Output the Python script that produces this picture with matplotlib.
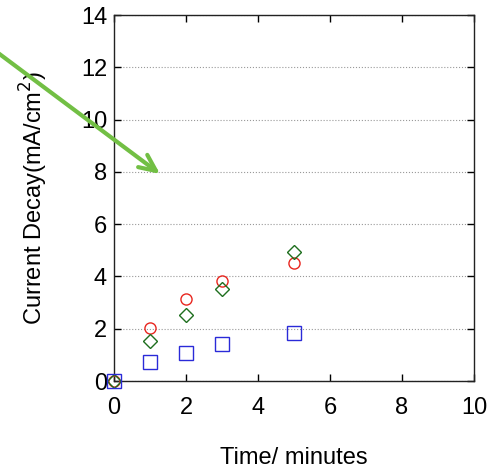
import matplotlib
matplotlib.use("Agg")
import matplotlib.pyplot as plt

time = [0, 1, 2, 3, 5]
red_vals = [0, 2.04, 3.12, 3.83, 4.53]
green_vals = [0, 1.54, 2.52, 3.52, 4.95]
blue_vals = [0, 0.74, 1.06, 1.40, 1.82]
xticks = [0, 2, 4, 6, 8, 10]
yticks = [0, 2, 4, 6, 8, 10, 12, 14]

plt.rcParams['font.family'] = ['Liberation Sans', 'DejaVu Sans']

fig = plt.figure(figsize=(5.0, 4.69), dpi=100)
ax = fig.add_axes([0.228, 0.1876, 0.72, 0.7804])

ax.plot(time, red_vals, 'o', mfc='none', mec='#e8261f', mew=1.0, ms=8, clip_on=False, zorder=3)
ax.plot(time, green_vals, 'D', mfc='none', mec='#1e6e1e', mew=1.0, ms=7.5, clip_on=False, zorder=3)
ax.plot(time, blue_vals, 's', mfc='none', mec='#2a2ad8', mew=1.0, ms=9.5, clip_on=False, zorder=3)

ax.set_xlim(0, 10)
ax.set_ylim(0, 14)
ax.set_xticks(xticks)
ax.set_yticks(yticks)
ax.yaxis.grid(True, linestyle=':', color='#999999', linewidth=0.8)
ax.set_axisbelow(True)
ax.tick_params(axis='both', direction='in', length=5, width=1, top=True, right=True, labelsize=17)
ax.tick_params(axis='x', pad=11.5)
ax.tick_params(axis='y', pad=5)
for s in ax.spines.values():
    s.set_linewidth(1.0)
    s.set_color('#222222')

ax.set_xlabel('Time/ minutes', fontsize=17, labelpad=20)
ax.set_ylabel('Current Decay(mA/cm$^2$)', fontsize=17, labelpad=22)

ax.annotate('', xy=(1.28, 7.92), xycoords='data',
            xytext=(-0.01, 0.892), textcoords='figure fraction',
            arrowprops=dict(arrowstyle='->,head_length=1.2,head_width=0.55',
                            color='#72bf44', lw=3, shrinkA=0, shrinkB=0),
            annotation_clip=False)

fig.savefig('out.png', dpi=100)
